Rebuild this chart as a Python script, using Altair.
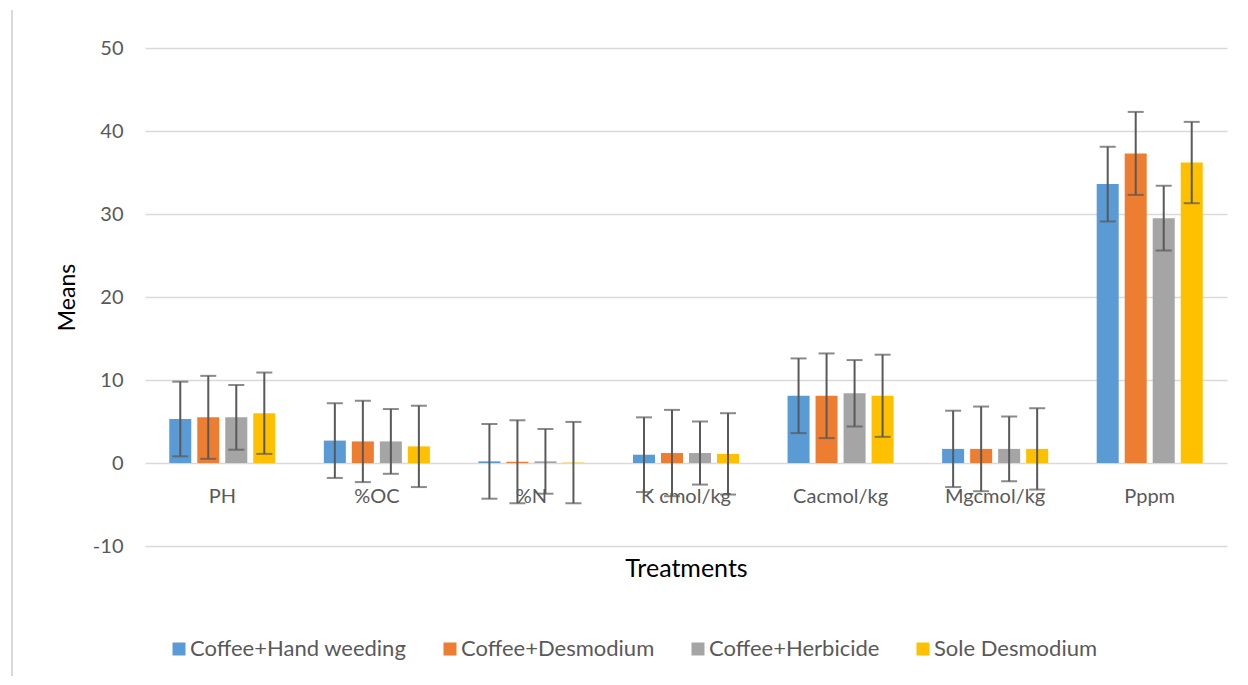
import altair as alt
import pandas as pd

categories = ["PH", "%OC", "%N", "K cmol/kg", "Cacmol/kg", "Mgcmol/kg", "Pppm"]
series = ["Coffee+Hand weeding", "Coffee+Desmodium", "Coffee+Herbicide", "Sole Desmodium"]
colors = ["#5B9BD5", "#ED7D31", "#A5A5A5", "#FFC000"]

hand_weeding = [5.3, 2.7, 0.2, 1.0, 8.1, 1.7, 33.6]
desmodium = [5.5, 2.6, 0.15, 1.2, 8.1, 1.7, 37.3]
herbicide = [5.5, 2.6, 0.2, 1.2, 8.4, 1.7, 29.5]
sole_desmodium = [6.0, 2.0, 0.05, 1.1, 8.1, 1.7, 36.2]

hand_weeding_err = [4.5, 4.5, 4.5, 4.5, 4.5, 4.6, 4.5]
desmodium_err = [5.0, 4.9, 5.0, 5.2, 5.1, 5.1, 5.0]
herbicide_err = [3.9, 3.9, 3.9, 3.8, 4.0, 3.9, 3.9]
sole_desmodium_err = [4.9, 4.9, 4.9, 4.9, 4.95, 4.9, 4.9]

y_ticks = [-10, 0, 10, 20, 30, 40, 50]

rows = []
for s, vals, errs in zip(series,
                         [hand_weeding, desmodium, herbicide, sole_desmodium],
                         [hand_weeding_err, desmodium_err, herbicide_err, sole_desmodium_err]):
    for c, v, e in zip(categories, vals, errs):
        rows.append({"cat": c, "series": s, "mean": v, "lo": v - e, "hi": v + e})
df = pd.DataFrame(rows)
border_df = pd.DataFrame({"k": [0]})

FONT = "Lato"
GREY_TXT = "#595959"

x_enc = alt.X("cat:N", sort=categories,
              scale=alt.Scale(paddingInner=0.314, paddingOuter=0.157),
              axis=alt.Axis(labels=True, ticks=False, domain=False, grid=False,
                            offset=-62, labelPadding=2, labelBaseline="top",
                            labelAngle=0, labelFontSize=20, labelFont=FONT,
                            labelColor=GREY_TXT, labelLimit=300,
                            title="Treatments",
                            titleFontSize=25, titleFont=FONT, titleColor="#000000",
                            titleFontWeight="normal", titleY=72, titleBaseline="top"))
xoff = alt.XOffset("series:N", sort=series,
                   scale=alt.Scale(paddingInner=0.214, paddingOuter=0))
y_scale = alt.Scale(domain=[-10, 50], nice=False, zero=False)

base = alt.Chart(df)

bars = base.mark_bar().encode(
    x=x_enc,
    xOffset=xoff,
    y=alt.Y("mean:Q", scale=y_scale,
            axis=alt.Axis(values=y_ticks, domain=False, ticks=False, labelPadding=22,
                          labelExpr="'' + datum.value",
                          labelFontSize=20, labelFont=FONT, labelColor=GREY_TXT,
                          gridColor="#D9D9D9", gridWidth=1.6,
                          title="Means", titleFontSize=23, titleFont=FONT,
                          titleColor="#000000", titleFontWeight="normal",
                          titleAngle=270, titleX=-66, titleY=249,
                          titleAlign="center", titleBaseline="bottom")),
    color=alt.Color("series:N", sort=series,
                    scale=alt.Scale(domain=series, range=colors),
                    legend=alt.Legend(title=None, orient="none", direction="horizontal",
                                      legendX=23, legendY=590, symbolType="square",
                                      symbolSize=169, symbolStrokeWidth=0,
                                      labelFontSize=22, labelFont=FONT, labelColor=GREY_TXT,
                                      labelLimit=400, columnPadding=32, labelOffset=0)),
)

err_rule = base.mark_rule(color="#595959", strokeWidth=2).encode(
    x=alt.X("cat:N", sort=categories), xOffset=xoff,
    y=alt.Y("lo:Q", scale=y_scale), y2="hi:Q",
)
cap_lo = base.mark_tick(color="#595959", thickness=2, size=16).encode(
    x=alt.X("cat:N", sort=categories), xOffset=xoff,
    y=alt.Y("lo:Q", scale=y_scale),
)
cap_hi = base.mark_tick(color="#595959", thickness=2, size=16).encode(
    x=alt.X("cat:N", sort=categories), xOffset=xoff,
    y=alt.Y("hi:Q", scale=y_scale),
)

border = alt.Chart(border_df).mark_rule(color="#D9D9D9", strokeWidth=2).encode(
    x=alt.value(-133), y=alt.value(-38), y2=alt.value(637),
)

chart = alt.layer(bars, err_rule, cap_lo, cap_hi, border).properties(
    width=1082, height=498,
    autosize=alt.AutoSizeParams(type="none"),
    padding={"left": 137, "top": 40, "right": 13, "bottom": 130},
).configure(font=FONT).configure_view(strokeWidth=0, stroke="transparent")

chart.save("out.html", embed_options={"renderer": "svg", "actions": False})
